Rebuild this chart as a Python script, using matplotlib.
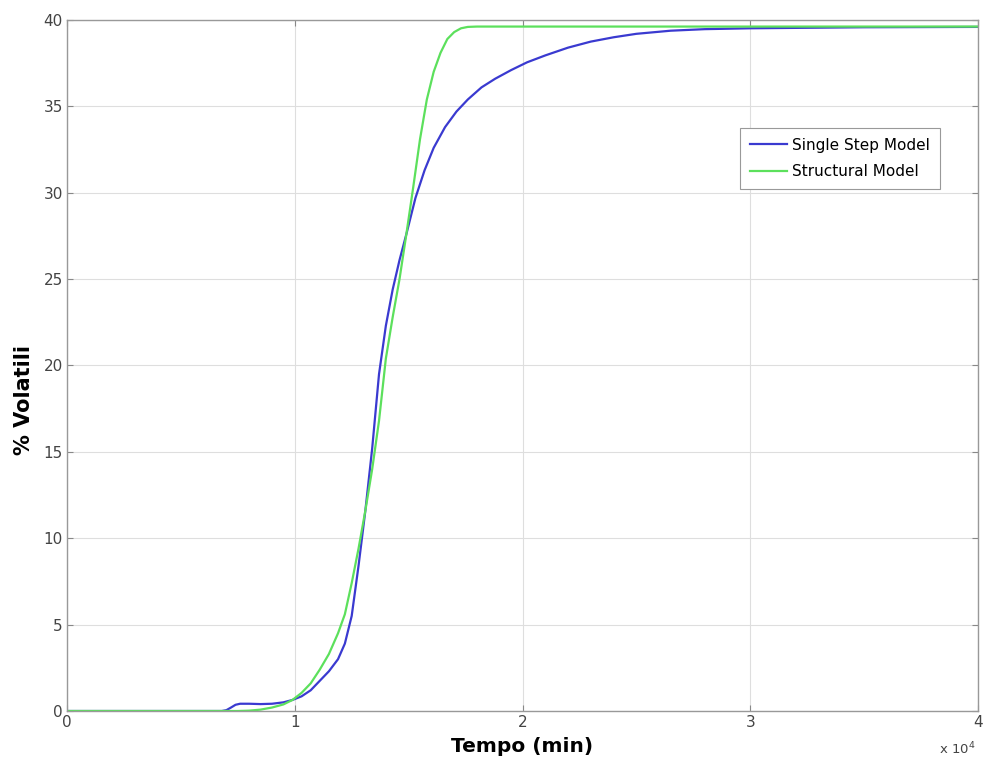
import matplotlib
matplotlib.use('Agg')
import matplotlib.pyplot as plt
from matplotlib.ticker import FuncFormatter

plt.rcParams['font.family'] = ['DejaVu Sans']

# time in minutes, volatiles in %
t_single = [0, 6800, 7000, 7200, 7400, 7600, 8000, 8500, 9000, 9500, 9900, 10300,
            10700, 11100, 11500, 11900, 12200, 12500, 12800, 13100, 13400, 13700,
            14000, 14300, 14600, 14900, 15300, 15700, 16100, 16600, 17100, 17600,
            18200, 18800, 19500, 20200, 21000, 22000, 23000, 24000, 25000, 26500,
            28000, 30000, 35000, 40000]
v_single = [0, 0, 0.05, 0.2, 0.36, 0.42, 0.42, 0.4, 0.42, 0.5, 0.64, 0.85,
            1.2, 1.75, 2.3, 3.0, 3.9, 5.5, 8.4, 11.6, 15.2, 19.5,
            22.3, 24.4, 26.1, 27.6, 29.7, 31.3, 32.6, 33.8, 34.7, 35.4,
            36.1, 36.6, 37.1, 37.55, 37.95, 38.4, 38.75, 39.0, 39.2, 39.38,
            39.47, 39.52, 39.58, 39.6]

t_struct = [0, 7500, 8000, 8500, 9000, 9500, 9900, 10300, 10700, 11100, 11500,
            11900, 12200, 12500, 12800, 13100, 13400, 13700, 14000, 14300, 14600,
            14900, 15200, 15500, 15800, 16100, 16400, 16700, 17000, 17300, 17600,
            18000, 40000]
v_struct = [0, 0, 0.02, 0.08, 0.2, 0.38, 0.64, 1.05, 1.6, 2.4, 3.3,
            4.5, 5.6, 7.4, 9.4, 11.6, 14.0, 16.8, 20.4, 22.8, 25.0,
            27.6, 30.3, 33.1, 35.4, 37.0, 38.1, 38.9, 39.3, 39.52, 39.6,
            39.62, 39.62]

x_ticks = [0, 10000, 20000, 30000, 40000]
y_ticks = [0, 5, 10, 15, 20, 25, 30, 35, 40]

fig = plt.figure(figsize=(9.84, 7.65), dpi=100)
ax = fig.add_axes([67/984, 54/765, 911/984, 691/765])

ax.plot(t_single, v_single, color='#3a3ad0', lw=1.6, label='Single Step Model')
ax.plot(t_struct, v_struct, color='#5ce05c', lw=1.6, label='Structural Model')

ax.set_xlim(0, 40000)
ax.set_ylim(0, 40)
ax.set_xticks(x_ticks)
ax.set_yticks(y_ticks)
ax.xaxis.set_major_formatter(FuncFormatter(lambda v, p: '%g' % (v / 1e4)))
ax.grid(True, color='#dedede', lw=0.8)
ax.tick_params(direction='in', top=True, right=True, length=4, color='#888888',
               labelsize=11, labelcolor='#444444', pad=3)
for s in ax.spines.values():
    s.set_color('#999999')
    s.set_linewidth(1.0)

ax.set_xlabel('Tempo (min)', fontsize=14.5, fontweight='bold', labelpad=5)
ax.set_ylabel('% Volatili', fontsize=15, fontweight='bold')
ax.yaxis.set_label_coords(-0.036, 0.45)
ax.text(0.997, -0.055, r'x 10$^4$', transform=ax.transAxes, ha='right', va='center',
        fontsize=9.5, color='#444444')

leg = ax.legend(loc='upper right', bbox_to_anchor=(0.958, 0.844), borderaxespad=0,
                fontsize=11, fancybox=False, framealpha=1, edgecolor='#999999',
                handlelength=2.4, handletextpad=0.35, borderpad=0.65,
                labelspacing=0.75)
leg.get_frame().set_linewidth(0.8)

fig.savefig('out.png', dpi=100)
